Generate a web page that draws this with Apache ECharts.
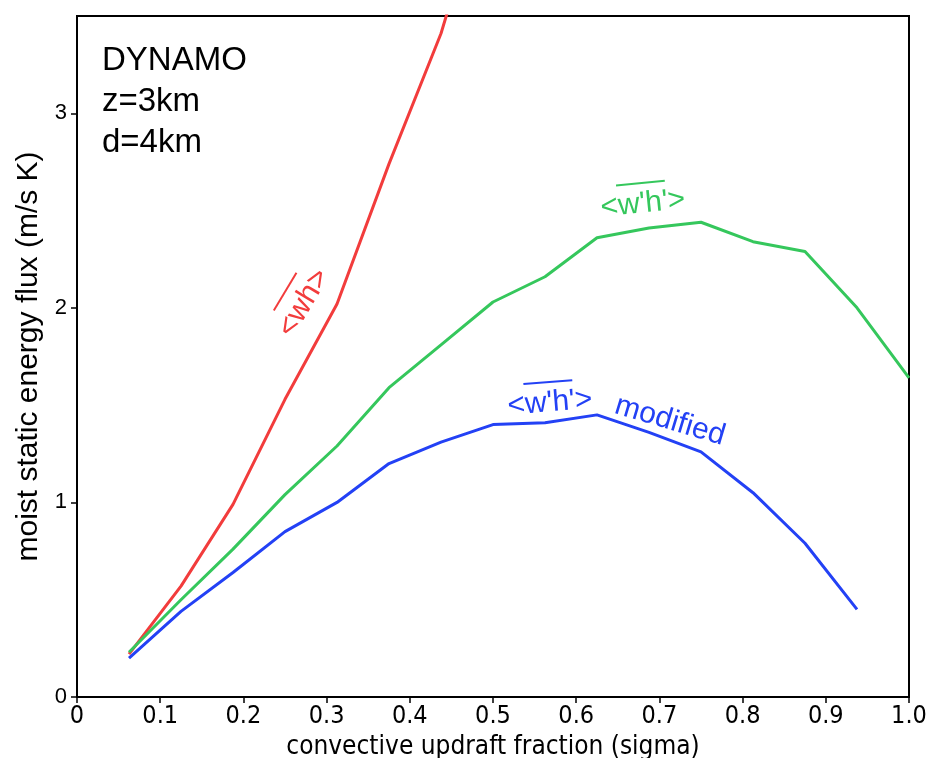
<!DOCTYPE html>
<html><head><meta charset="utf-8">
<script src="https://cdn.jsdelivr.net/npm/echarts@6/dist/echarts.min.js"></script>
<style>html,body{margin:0;padding:0;background:#fff}#c{width:930px;height:758px}</style>
</head><body><div id="c"></div>
<script>
const sigma = [0.0625,0.125,0.1875,0.25,0.3125,0.375,0.4375,0.5,0.5625,0.625,0.6875,0.75,0.8125,0.875,0.9375,1.0];
const redVals = [0.22,0.57,0.99,1.53,2.02,2.74,3.41,4.3];
const greenVals = [0.23,0.50,0.76,1.04,1.29,1.59,1.81,2.03,2.16,2.36,2.41,2.44,2.34,2.29,2.00,1.64];
const blueVals = [0.20,0.44,0.64,0.85,1.00,1.20,1.31,1.40,1.41,1.45,1.36,1.26,1.05,0.79,0.45];
const yTicks = [0,1,2,3];
const infoLines = ['DYNAMO','z=3km','d=4km'];

const pair = (vals) => vals.map((v,i)=>[sigma[i], v]);
const chart = echarts.init(document.getElementById('c'));
const RED='#f23c3c', GREEN='#35c75c', BLUE='#2341f5';
const SANS='Liberation Sans, Arial, sans-serif';
const COND='DejaVu Sans Condensed, Liberation Sans Narrow, sans-serif';
function label(x,y,rot,text,color,ol){
  const children=[{type:'text',x:0,y:0,style:{text:text,fontSize:30,fontFamily:SANS,fill:color,align:'center',verticalAlign:'middle'}}];
  if(ol) children.push({type:'line',shape:{x1:ol[0],y1:ol[2],x2:ol[1],y2:ol[2]},style:{stroke:color,lineWidth:2}});
  return {type:'group',x:x,y:y,rotation:rot,children:children};
}
chart.setOption({
  animation:false,
  grid:{left:77,right:21,top:16,bottom:61,show:true,borderColor:'#000',borderWidth:2,containLabel:false,outerBoundsMode:'none'},
  xAxis:{type:'value',min:0,max:1,interval:0.1,
    name:'convective updraft fraction (sigma)',nameLocation:'middle',nameGap:32,
    nameTextStyle:{fontFamily:COND,fontSize:26,color:'#000'},
    axisLine:{lineStyle:{color:'#000',width:2}},
    axisTick:{show:true,length:6,lineStyle:{color:'#000',width:1.5}},
    splitLine:{show:false},
    axisLabel:{color:'#000',fontSize:25,margin:7,fontFamily:COND,
      formatter:v=> v===0?'0':(Math.abs(v-1)<1e-9?'1.0':v.toFixed(1))}},
  yAxis:{type:'value',min:0,max:3.5,
    name:'moist static energy flux (m/s K)',nameLocation:'middle',nameGap:33,
    nameTextStyle:{fontFamily:SANS,fontSize:30,color:'#000'},
    axisLine:{lineStyle:{color:'#000',width:2}},
    axisTick:{show:true,length:6,customValues:yTicks,lineStyle:{color:'#000',width:1.5}},
    splitLine:{show:false},
    axisLabel:{color:'#000',fontSize:22,margin:10,fontFamily:SANS,customValues:yTicks,
      formatter:v=> String(v)}},
  series:[
    {type:'line',data:pair(redVals),symbol:'none',clip:true,lineStyle:{color:RED,width:3}},
    {type:'line',data:pair(greenVals),symbol:'none',clip:true,lineStyle:{color:GREEN,width:3}},
    {type:'line',data:pair(blueVals),symbol:'none',clip:true,lineStyle:{color:BLUE,width:3}}
  ],
  graphic:[
    ...infoLines.map((t,i)=>({type:'text',left:102,top:44+i*41,style:{text:t,fontSize:33,fontFamily:SANS,fill:'#000'}})),
    label(304,303,1.03,'<wh>',RED,[-22,22,-22]),
    label(643,204,0.1,"<w'h'>",GREEN,[-25,24,-21]),
    label(550,403,0.08,"<w'h'>",BLUE,[-25,24,-21]),
    label(670,421,-0.29,'modified',BLUE,null)
  ]
});
</script></body></html>
